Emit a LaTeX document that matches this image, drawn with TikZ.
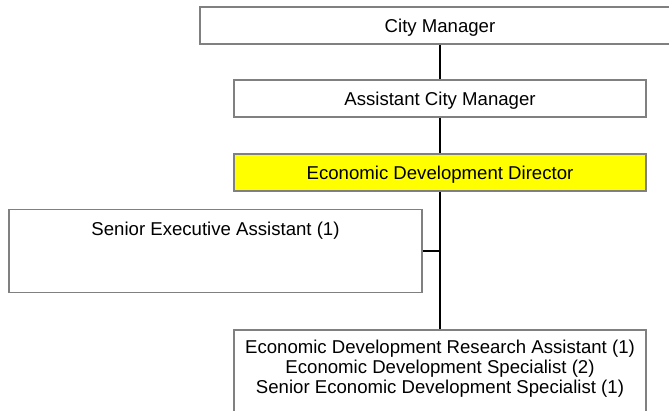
\documentclass[tikz,border=0pt]{standalone}
\usepackage{fontspec}
\setmainfont{Liberation Sans}
\definecolor{boxgray}{RGB}{128,128,128}
\definecolor{diryellow}{RGB}{255,255,0}
\begin{document}
\begin{tikzpicture}[x=1pt,y=-1pt,
  box/.style={draw=boxgray, line width=1.5pt, fill=white, rectangle, inner sep=0pt,
    font=\fontsize{18.6}{20}\selectfont, text height=13pt, text depth=0pt},
  txt/.style={inner sep=0pt, font=\fontsize{18.6}{20}\selectfont},
  link/.style={draw=black, line width=2pt}]
\useasboundingbox (0,0) rectangle (669,410);
\clip (0,0) rectangle (669,410);
\node[box, minimum width=480, minimum height=37] (cm) at (440,25.5) {City Manager};
\node[box, minimum width=412, minimum height=37] (acm) at (440,98.5) {Assistant City Manager};
\node[box, fill=diryellow, minimum width=412, minimum height=37] (edd) at (440,172.5) {Economic Development Director};
\node[box, minimum width=413, minimum height=83] (sea) at (215.5,251) {};
\node[txt, text height=13pt, text depth=0pt] (seat) at (215.5,228.5) {Senior Executive Assistant (1)};
\node[box, minimum width=412, minimum height=100, anchor=north] (staff) at (440,329) {};
\node[txt, align=center, anchor=north] (stafft) at (440,340) {Economic Development Research Assistant (1)\\Economic Development Specialist (2)\\Senior Economic Development Specialist (1)};
\draw[link] (cm.south) -- (acm.north);
\draw[link] (acm.south) -- (edd.north);
\draw[link] (edd.south) -- (staff.north);
\draw[link] (sea.east) -- (sea.east -| edd.south);
\end{tikzpicture}
\end{document}
